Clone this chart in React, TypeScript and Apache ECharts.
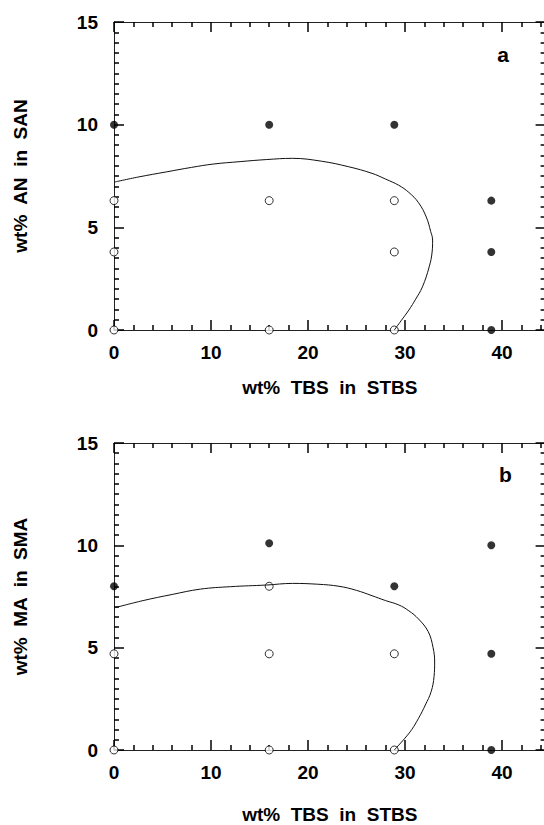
import React, { useEffect, useRef } from "react";
import * as echarts from "echarts";

// Panel a: wt% AN in SAN
const aFilled: [number, number][] = [
  [0, 10], [16, 10], [28.9, 10], [38.9, 6.3], [38.9, 3.8], [38.9, 0],
];
const aOpen: [number, number][] = [
  [0, 6.3], [16, 6.3], [28.9, 6.3], [0, 3.8], [28.9, 3.8], [0, 0], [16, 0], [28.9, 0],
];
const aCurve: [number, number][] = [
  [0, 7.2], [2.5, 7.45], [5.4, 7.7], [8, 7.92], [10.2, 8.08], [13, 8.2], [15.7, 8.3],
  [18.4, 8.36], [21.4, 8.22], [24.2, 7.95], [26.6, 7.63], [28, 7.35], [29.35, 7.05],
  [30.4, 6.7], [31.4, 6.2], [32.2, 5.5], [32.65, 4.8], [32.85, 4.38], [32.8, 3.8],
  [32.5, 3.08], [31.8, 2.1], [31.1, 1.5], [30.4, 0.97], [29.6, 0.45], [28.9, 0],
];

// Panel b: wt% MA in SMA
const bFilled: [number, number][] = [
  [0, 8], [16, 10.1], [28.9, 8], [38.9, 10], [38.9, 4.7], [38.9, 0],
];
const bOpen: [number, number][] = [
  [16, 8], [0, 4.7], [16, 4.7], [28.9, 4.7], [0, 0], [16, 0], [28.9, 0],
];
const bCurve: [number, number][] = [
  [0, 6.94], [3, 7.3], [6, 7.6], [8.9, 7.86], [12, 7.98], [15.7, 8.06], [18.4, 8.14],
  [21, 8.1], [23.2, 8.0], [25, 7.8], [26.6, 7.54], [28, 7.3], [29.35, 7.09],
  [30.4, 6.8], [31.4, 6.4], [32.4, 5.78], [32.9, 5.0], [33.06, 4.3], [33.0, 3.6],
  [32.7, 2.85], [32.1, 2.2], [31.4, 1.55], [30.7, 1.0], [30.0, 0.58], [28.9, 0],
];

const xTitle = "wt%  TBS  in  STBS";
const yTitleA = "wt%  AN  in  SAN";
const yTitleB = "wt%  MA  in  SMA";
const panelLabels = ["a", "b"];

const X_MIN = 0;
const X_MAX = 44.5;
const X_STEP = 10;
const Y_MIN = 0;
const Y_MAX = 15;
const Y_STEP = 5;

const FONT = "'Liberation Sans', Arial, sans-serif";
const INK = "#000";

export default function App() {
  const ref = useRef<HTMLDivElement>(null);

  useEffect(() => {
    if (!ref.current) return;
    const chart = echarts.init(ref.current, undefined, { renderer: "svg" });

    const axisLine = () => ({ show: true, onZero: false, lineStyle: { color: "#222", width: 1 } });
    const tick = () => ({
      show: true,
      inside: true,
      length: 10,
      lineStyle: { color: INK, width: 1.5 },
    });
    const minorTick = (n: number) => ({
      show: true,
      splitNumber: n,
      length: 5,
      lineStyle: { color: INK, width: 1.5 },
    });
    const labelStyle = () => ({
      color: "#000",
      fontFamily: FONT,
      fontWeight: "bold" as const,
      fontSize: 19,
    });
    const fmt = (step: number) => (v: number) =>
      Math.abs(v / step - Math.round(v / step)) < 1e-6 ? String(Math.round(v)) : "";

    const grids = [
      { left: 114, top: 22, width: 431.6, height: 308 },
      { left: 114, top: 443, width: 431.6, height: 309 },
    ];

    const xAxes: any[] = [];
    const yAxes: any[] = [];
    const yTitles = [yTitleA, yTitleB];
    const xNameGaps = [48, 55];
    grids.forEach((_, gi) => {
      xAxes.push({
        type: "value",
        gridIndex: gi,
        position: "bottom",
        min: X_MIN,
        max: X_MAX,
        interval: X_STEP,
        axisLine: axisLine(),
        axisTick: tick(),
        minorTick: minorTick(5),
        splitLine: { show: false },
        axisLabel: {
          ...labelStyle(),
          margin: 13,
          formatter: fmt(X_STEP),
          showMaxLabel: false,
        },
        name: xTitle,
        nameLocation: "middle",
        nameGap: xNameGaps[gi],
        nameTextStyle: labelStyle(),
      });
      xAxes.push({
        type: "value",
        gridIndex: gi,
        position: "top",
        min: X_MIN,
        max: X_MAX,
        interval: X_STEP,
        axisLine: axisLine(),
        axisTick: tick(),
        minorTick: minorTick(5),
        splitLine: { show: false },
        axisLabel: { show: false },
      });
      yAxes.push({
        type: "value",
        gridIndex: gi,
        position: "left",
        min: Y_MIN,
        max: Y_MAX,
        interval: Y_STEP,
        axisLine: axisLine(),
        axisTick: tick(),
        minorTick: minorTick(10),
        splitLine: { show: false },
        axisLabel: { ...labelStyle(), margin: 16 },
        name: yTitles[gi],
        nameLocation: "middle",
        nameRotate: 90,
        nameGap: 84,
        nameTextStyle: labelStyle(),
      });
      yAxes.push({
        type: "value",
        gridIndex: gi,
        position: "right",
        min: Y_MIN,
        max: Y_MAX,
        interval: Y_STEP,
        axisLine: axisLine(),
        axisTick: tick(),
        minorTick: minorTick(10),
        splitLine: { show: false },
        axisLabel: { show: false },
      });
    });

    const panels = [
      { curve: aCurve, filled: aFilled, open: aOpen },
      { curve: bCurve, filled: bFilled, open: bOpen },
    ];
    const series: any[] = [];
    panels.forEach((p, gi) => {
      const xi = gi * 2;
      const yi = gi * 2;
      series.push({
        type: "line",
        xAxisIndex: xi,
        yAxisIndex: yi,
        data: p.curve,
        smooth: 0.4,
        showSymbol: false,
        symbol: "none",
        lineStyle: { color: "#111", width: 1 },
      });
      series.push({
        type: "scatter",
        xAxisIndex: xi,
        yAxisIndex: yi,
        data: p.filled,
        symbol: "circle",
        symbolSize: 8,
        itemStyle: { color: "#000" },
      });
      series.push({
        type: "scatter",
        xAxisIndex: xi,
        yAxisIndex: yi,
        data: p.open,
        symbol: "circle",
        symbolSize: 8,
        itemStyle: { color: "#fff", borderColor: "#000", borderWidth: 1 },
      });
    });

    chart.setOption({
      animation: false,
      grid: grids,
      xAxis: xAxes,
      yAxis: yAxes,
      series,
      graphic: [
        {
          type: "text",
          x: 503,
          y: 54.5,
          style: {
            text: panelLabels[0],
            fill: "#000",
            font: `bold 21px ${FONT}`,
            align: "center",
            verticalAlign: "middle",
          },
        },
        {
          type: "text",
          x: 505.5,
          y: 474,
          style: {
            text: panelLabels[1],
            fill: "#000",
            font: `bold 21px ${FONT}`,
            align: "center",
            verticalAlign: "middle",
          },
        },
      ],
    });

    return () => chart.dispose();
  }, []);

  return (
    <div
      style={{
        position: "absolute",
        left: 0,
        top: 0,
        width: 544,
        height: 825,
        overflow: "hidden",
        background: "#fff",
      }}
    >
      <div ref={ref} style={{ width: 560, height: 825 }} />
    </div>
  );
}
